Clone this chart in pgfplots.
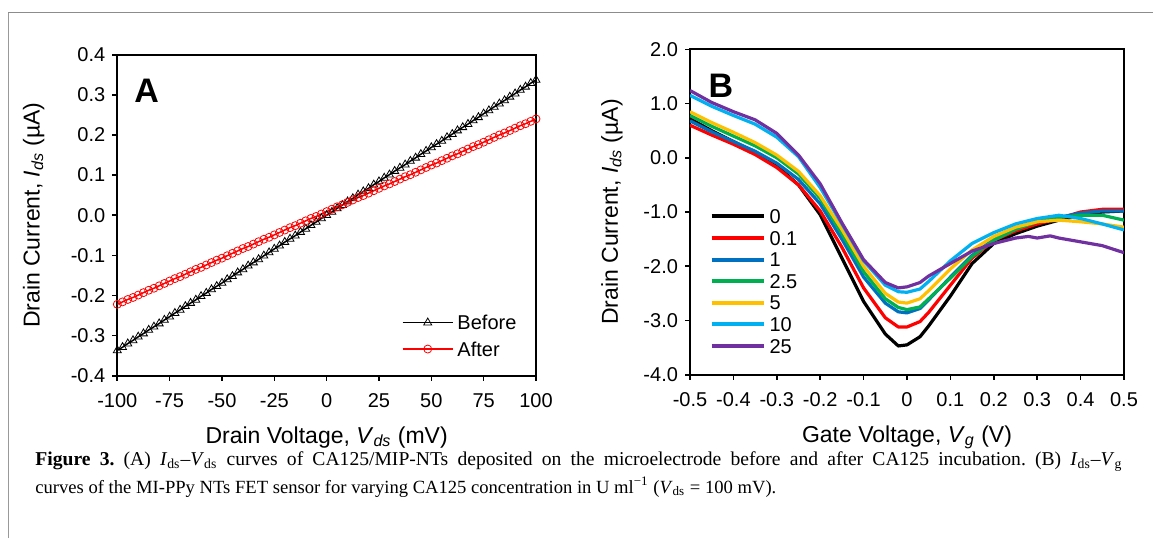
\documentclass[border=0pt]{standalone}
\usepackage{pgfplots}
\pgfplotsset{compat=1.18}
\usepackage{fontspec}
\setmainfont{Liberation Sans}
\newfontfamily\capfont{Liberation Serif}
\definecolor{xred}{RGB}{255,0,0}
\definecolor{xblue}{RGB}{0,112,192}
\definecolor{xgreen}{RGB}{0,176,80}
\definecolor{xgold}{RGB}{255,192,0}
\definecolor{xcyan}{RGB}{0,176,240}
\definecolor{xpurple}{RGB}{112,48,160}

\pgfplotsset{
  figstyle/.style={
    scale only axis, anchor=south west,
    axis line style={line width=1pt},
    tick style={line width=0.8pt, black},
    major tick length=2.5pt, tick align=outside,
    xtick pos=left, ytick pos=left,
    /pgf/number format/assume math mode=true,
    ticklabel style={font=\fontsize{10}{12}\selectfont},
    xticklabel style={yshift=-3pt},
    label style={font=\fontsize{11.5}{13}\selectfont},
    legend style={draw=none, fill=none, inner sep=0pt, row sep=0pt,
      font=\fontsize{10}{12}\selectfont,
      nodes={inner sep=0pt, text height=7.2pt, text depth=0pt},
      /tikz/every odd column/.append style={column sep=2pt}},
    legend cell align=left,
  },
}

\begin{document}
\frenchspacing
\begin{tikzpicture}
\begin{scope}[x=0.5pt, y=-0.5pt]
  \path[use as bounding box] (0,0) rectangle (1153,538);
  \draw[black!40, line width=0.8pt] (8.3,538) -- (8.3,12.3);
  \draw[black!45, line width=0.8pt] (8.3,12.3) -- (1153,12.3);
  \coordinate (pa) at (117.3,375.7);
  \coordinate (pb) at (690,374.7);
\end{scope}

% panel A
\begin{axis}[figstyle, at={(pa)}, width=209.35pt, height=160.5pt,
  xmin=-100, xmax=100, ymin=-0.4, ymax=0.4,
  xtick={-100,-75,-50,-25,0,25,50,75,100},
  xticklabels={-100,-75,-50,-25,0,25,50,75,100},
  ytick={-0.4,-0.3,-0.2,-0.1,0,0.1,0.2,0.3,0.4},
  yticklabels={-0.4,-0.3,-0.2,-0.1,0.0,0.1,0.2,0.3,0.4},
  xlabel={Drain Voltage, \textit{V}\textsubscript{\textit{ds}} (mV)},
  ylabel={Drain Current, \textit{I}\textsubscript{\textit{ds}} (µA)},
  x label style={at={(axis description cs:0.5,-0.192)}, anchor=center},
  y label style={at={(axis description cs:-0.2,0.5)}, anchor=center, rotate=0},
  legend style={at={(axis description cs:0.679,0.189)}, anchor=north west, row sep=6pt},
  legend image code/.code={\draw[mark repeat=2,mark phase=2,#1] plot coordinates {(0pt,0pt) (12.5pt,0pt) (25pt,0pt)};},
]
\addplot[black, line width=0.75pt, mark=triangle, mark size=2.3pt, mark options={line width=0.4pt}] coordinates {
(-100,-0.337) (-97.5,-0.329) (-95,-0.320) (-92.5,-0.312) (-90,-0.303) (-87.5,-0.295) (-85,-0.286) (-82.5,-0.278)
(-80,-0.270) (-77.5,-0.261) (-75,-0.253) (-72.5,-0.244) (-70,-0.236) (-67.5,-0.227) (-65,-0.219) (-62.5,-0.211)
(-60,-0.202) (-57.5,-0.194) (-55,-0.185) (-52.5,-0.177) (-50,-0.169) (-47.5,-0.160) (-45,-0.152) (-42.5,-0.143)
(-40,-0.135) (-37.5,-0.126) (-35,-0.118) (-32.5,-0.110) (-30,-0.101) (-27.5,-0.093) (-25,-0.084) (-22.5,-0.076)
(-20,-0.067) (-17.5,-0.059) (-15,-0.051) (-12.5,-0.042) (-10,-0.034) (-7.5,-0.025) (-5,-0.017) (-2.5,-0.008)
(0,0.000) (2.5,0.008) (5,0.017) (7.5,0.025) (10,0.034) (12.5,0.042) (15,0.051) (17.5,0.059)
(20,0.067) (22.5,0.076) (25,0.084) (27.5,0.093) (30,0.101) (32.5,0.110) (35,0.118) (37.5,0.126)
(40,0.135) (42.5,0.143) (45,0.152) (47.5,0.160) (50,0.169) (52.5,0.177) (55,0.185) (57.5,0.194)
(60,0.202) (62.5,0.211) (65,0.219) (67.5,0.227) (70,0.236) (72.5,0.244) (75,0.253) (77.5,0.261)
(80,0.270) (82.5,0.278) (85,0.286) (87.5,0.295) (90,0.303) (92.5,0.312) (95,0.320) (97.5,0.329) (100,0.337)
};
\addlegendentry{Before}
\addplot[xred, line width=0.75pt, mark=o, mark size=2pt, mark options={line width=0.4pt}] coordinates {
(-100,-0.222) (-97.5,-0.216) (-95,-0.210) (-92.5,-0.205) (-90,-0.199) (-87.5,-0.193) (-85,-0.187) (-82.5,-0.182)
(-80,-0.176) (-77.5,-0.170) (-75,-0.164) (-72.5,-0.158) (-70,-0.153) (-67.5,-0.147) (-65,-0.141) (-62.5,-0.135)
(-60,-0.130) (-57.5,-0.124) (-55,-0.118) (-52.5,-0.112) (-50,-0.107) (-47.5,-0.101) (-45,-0.095) (-42.5,-0.089)
(-40,-0.083) (-37.5,-0.078) (-35,-0.072) (-32.5,-0.066) (-30,-0.060) (-27.5,-0.055) (-25,-0.049) (-22.5,-0.043)
(-20,-0.037) (-17.5,-0.031) (-15,-0.026) (-12.5,-0.020) (-10,-0.014) (-7.5,-0.008) (-5,-0.003) (-2.5,0.003)
(0,0.009) (2.5,0.015) (5,0.021) (7.5,0.026) (10,0.032) (12.5,0.038) (15,0.044) (17.5,0.049)
(20,0.055) (22.5,0.061) (25,0.067) (27.5,0.073) (30,0.078) (32.5,0.084) (35,0.090) (37.5,0.096)
(40,0.101) (42.5,0.107) (45,0.113) (47.5,0.119) (50,0.125) (52.5,0.130) (55,0.136) (57.5,0.142)
(60,0.148) (62.5,0.153) (65,0.159) (67.5,0.165) (70,0.171) (72.5,0.176) (75,0.182) (77.5,0.188)
(80,0.194) (82.5,0.200) (85,0.205) (87.5,0.211) (90,0.217) (92.5,0.223) (95,0.228) (97.5,0.234) (100,0.240)
};
\addlegendentry{After}
\node[font=\fontsize{17}{18}\bfseries\selectfont] at (axis cs:-86,0.310) {A};
\end{axis}

% panel B
\begin{axis}[figstyle, at={(pb)}, width=217pt, height=162.7pt,
  xmin=-0.5, xmax=0.5, ymin=-4, ymax=2,
  xtick={-0.5,-0.4,-0.3,-0.2,-0.1,0,0.1,0.2,0.3,0.4,0.5},
  xticklabels={-0.5,-0.4,-0.3,-0.2,-0.1,0,0.1,0.2,0.3,0.4,0.5},
  ytick={-4,-3,-2,-1,0,1,2},
  yticklabels={-4.0,-3.0,-2.0,-1.0,0.0,1.0,2.0},
  xlabel={Gate Voltage, \textit{V}\textsubscript{\textit{g}} (V)},
  ylabel={Drain Current, \textit{I}\textsubscript{\textit{ds}} (µA)},
  x label style={at={(axis description cs:0.5,-0.192)}, anchor=center},
  y label style={at={(axis description cs:-0.18,0.5)}, anchor=center, rotate=0},
  legend style={at={(axis description cs:0.044,0.51)}, anchor=north west, row sep=3.6pt},
  legend image code/.code={\draw[#1, line width=2pt] (0pt,0pt) -- (26pt,0pt);},
  every axis plot/.append style={line width=1.6pt, line join=round},
]
\addplot[black] coordinates {(-0.5,0.72) (-0.45,0.50) (-0.4,0.30) (-0.35,0.10) (-0.3,-0.15) (-0.25,-0.50) (-0.2,-1.05) (-0.15,-1.85) (-0.1,-2.65) (-0.05,-3.25) (-0.02,-3.47) (0,-3.45) (0.03,-3.30) (0.05,-3.10) (0.1,-2.55) (0.15,-1.95) (0.2,-1.58) (0.25,-1.40) (0.3,-1.26) (0.35,-1.15) (0.4,-1.06) (0.45,-1.0) (0.5,-0.98)};
\addlegendentry{0}
\addplot[xred] coordinates {(-0.5,0.60) (-0.45,0.42) (-0.4,0.25) (-0.35,0.06) (-0.3,-0.18) (-0.25,-0.50) (-0.2,-0.98) (-0.15,-1.65) (-0.1,-2.40) (-0.05,-2.95) (-0.02,-3.12) (0,-3.12) (0.03,-3.02) (0.05,-2.85) (0.1,-2.35) (0.15,-1.85) (0.2,-1.52) (0.25,-1.35) (0.3,-1.22) (0.35,-1.12) (0.4,-1.0) (0.45,-0.95) (0.5,-0.95)};
\addlegendentry{0.1}
\addplot[xblue] coordinates {(-0.5,0.68) (-0.45,0.48) (-0.4,0.30) (-0.35,0.12) (-0.3,-0.10) (-0.25,-0.40) (-0.2,-0.85) (-0.15,-1.50) (-0.1,-2.20) (-0.05,-2.68) (-0.02,-2.84) (0,-2.86) (0.03,-2.78) (0.05,-2.62) (0.1,-2.20) (0.15,-1.80) (0.2,-1.50) (0.25,-1.30) (0.3,-1.18) (0.35,-1.10) (0.4,-1.02) (0.45,-0.98) (0.5,-0.98)};
\addlegendentry{1}
\addplot[xgreen] coordinates {(-0.5,0.78) (-0.45,0.58) (-0.4,0.40) (-0.35,0.22) (-0.3,0.0) (-0.25,-0.30) (-0.2,-0.75) (-0.15,-1.40) (-0.1,-2.10) (-0.05,-2.60) (-0.02,-2.76) (0,-2.80) (0.03,-2.75) (0.05,-2.60) (0.1,-2.22) (0.15,-1.82) (0.2,-1.52) (0.25,-1.32) (0.3,-1.18) (0.35,-1.10) (0.4,-1.06) (0.45,-1.06) (0.5,-1.15)};
\addlegendentry{2.5}
\addplot[xgold] coordinates {(-0.5,0.85) (-0.45,0.65) (-0.4,0.47) (-0.35,0.28) (-0.3,0.05) (-0.25,-0.25) (-0.2,-0.70) (-0.15,-1.32) (-0.1,-2.00) (-0.05,-2.50) (-0.02,-2.66) (0,-2.68) (0.03,-2.60) (0.05,-2.45) (0.1,-2.05) (0.15,-1.70) (0.2,-1.45) (0.25,-1.28) (0.3,-1.18) (0.35,-1.15) (0.4,-1.18) (0.45,-1.22) (0.5,-1.28)};
\addlegendentry{5}
\addplot[xcyan] coordinates {(-0.5,1.15) (-0.45,0.95) (-0.4,0.78) (-0.35,0.62) (-0.3,0.38) (-0.25,0.02) (-0.2,-0.55) (-0.15,-1.22) (-0.1,-1.90) (-0.05,-2.35) (-0.02,-2.47) (0,-2.48) (0.03,-2.42) (0.05,-2.28) (0.1,-1.90) (0.15,-1.58) (0.2,-1.38) (0.25,-1.22) (0.3,-1.12) (0.35,-1.06) (0.4,-1.12) (0.45,-1.22) (0.5,-1.33)};
\addlegendentry{10}
\addplot[xpurple] coordinates {(-0.5,1.24) (-0.45,1.02) (-0.4,0.85) (-0.35,0.70) (-0.3,0.45) (-0.25,0.05) (-0.2,-0.48) (-0.15,-1.20) (-0.1,-1.88) (-0.05,-2.30) (-0.02,-2.40) (0,-2.38) (0.03,-2.30) (0.05,-2.18) (0.1,-1.95) (0.15,-1.72) (0.2,-1.58) (0.25,-1.48) (0.28,-1.45) (0.3,-1.48) (0.33,-1.44) (0.35,-1.48) (0.4,-1.55) (0.45,-1.62) (0.5,-1.75)};
\addlegendentry{25}
\node[font=\fontsize{17}{18}\bfseries\selectfont] at (axis cs:-0.429,1.33) {B};
\end{axis}

\begin{scope}[x=0.5pt, y=-0.5pt]
  \node[anchor=west, inner sep=0pt, font=\capfont\fontsize{9.8}{11}\selectfont] at (35,462)
    {\makebox[543.5pt][s]{\textbf{Figure 3.} (A) \textit{I}\textsubscript{ds}–\textit{V}\textsubscript{ds} curves of CA125/MIP-NTs deposited on the microelectrode before and after CA125 incubation. (B) \textit{I}\textsubscript{ds}–\textit{V}\textsubscript{g}}};
  \node[anchor=west, inner sep=0pt, font=\capfont\fontsize{9.3}{11}\selectfont] at (35,487)
    {curves of the MI-PPy NTs FET sensor for varying CA125 concentration in U ml\textsuperscript{−1} (\textit{V}\textsubscript{ds} = 100 mV).};
\end{scope}
\end{tikzpicture}
\end{document}
